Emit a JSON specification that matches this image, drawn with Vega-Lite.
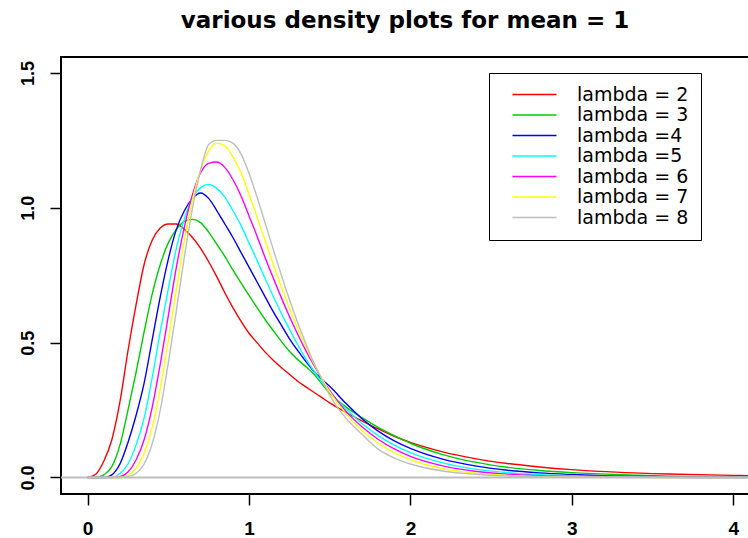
{
  "$schema": "https://vega.github.io/schema/vega-lite/v6.json",
  "width": 688,
  "height": 437,
  "autosize": {"type": "none"},
  "padding": {"left": 61, "top": 57, "right": 0, "bottom": 44},
  "background": "white",
  "title": {
    "text": "various density plots for mean = 1",
    "font": "DejaVu Sans",
    "fontWeight": "bold",
    "fontSize": 23,
    "color": "black",
    "anchor": "middle",
    "baseline": "alphabetic",
    "offset": 6
  },
  "config": {
    "view": {"stroke": "black", "strokeWidth": 2},
    "axis": {
      "domain": false,
      "grid": false,
      "ticks": true,
      "tickColor": "black",
      "tickWidth": 1.5,
      "tickSize": 11,
      "labelColor": "black",
      "labelFont": "Liberation Sans",
      "labelFontWeight": "bold",
      "title": null
    }
  },
  "layer": [
    {
      "data": {
        "values": [
          {"x": 0, "lambda = 2": 0, "lambda = 3": 0, "lambda =4": 0, "lambda =5": 0, "lambda = 6": 0, "lambda = 7": 0, "lambda = 8": 0},
          {"x": 0.05, "lambda = 2": 0.012, "lambda = 3": 0, "lambda =4": 0, "lambda =5": 0, "lambda = 6": 0, "lambda = 7": 0, "lambda = 8": 0},
          {"x": 0.1, "lambda = 2": 0.06, "lambda = 3": 0.01, "lambda =4": 0, "lambda =5": 0, "lambda = 6": 0, "lambda = 7": 0, "lambda = 8": 0},
          {"x": 0.15, "lambda = 2": 0.14, "lambda = 3": 0.04, "lambda =4": 0.01, "lambda =5": 0, "lambda = 6": 0, "lambda = 7": 0, "lambda = 8": 0},
          {"x": 0.2, "lambda = 2": 0.28, "lambda = 3": 0.12, "lambda =4": 0.05, "lambda =5": 0.015, "lambda = 6": 0.003, "lambda = 7": 0, "lambda = 8": 0},
          {"x": 0.25, "lambda = 2": 0.47, "lambda = 3": 0.25, "lambda =4": 0.13, "lambda =5": 0.05, "lambda = 6": 0.02, "lambda = 7": 0.008, "lambda = 8": 0.003},
          {"x": 0.3, "lambda = 2": 0.64, "lambda = 3": 0.39, "lambda =4": 0.23, "lambda =5": 0.12, "lambda = 6": 0.065, "lambda = 7": 0.035, "lambda = 8": 0.015},
          {"x": 0.35, "lambda = 2": 0.79, "lambda = 3": 0.54, "lambda =4": 0.35, "lambda =5": 0.22, "lambda = 6": 0.14, "lambda = 7": 0.09, "lambda = 8": 0.05},
          {"x": 0.4, "lambda = 2": 0.88, "lambda = 3": 0.68, "lambda =4": 0.51, "lambda =5": 0.37, "lambda = 6": 0.26, "lambda = 7": 0.185, "lambda = 8": 0.125},
          {"x": 0.45, "lambda = 2": 0.925, "lambda = 3": 0.79, "lambda =4": 0.67, "lambda =5": 0.54, "lambda = 6": 0.42, "lambda = 7": 0.33, "lambda = 8": 0.25},
          {"x": 0.5, "lambda = 2": 0.94, "lambda = 3": 0.87, "lambda =4": 0.81, "lambda =5": 0.7, "lambda = 6": 0.6, "lambda = 7": 0.51, "lambda = 8": 0.425},
          {"x": 0.55, "lambda = 2": 0.94, "lambda = 3": 0.92, "lambda =4": 0.92, "lambda =5": 0.85, "lambda = 6": 0.78, "lambda = 7": 0.7, "lambda = 8": 0.62},
          {"x": 0.6, "lambda = 2": 0.92, "lambda = 3": 0.95, "lambda =4": 0.99, "lambda =5": 0.96, "lambda = 6": 0.93, "lambda = 7": 0.88, "lambda = 8": 0.82},
          {"x": 0.65, "lambda = 2": 0.89, "lambda = 3": 0.957, "lambda =4": 1.035, "lambda =5": 1.035, "lambda = 6": 1.05, "lambda = 7": 1.03, "lambda = 8": 1.0},
          {"x": 0.7, "lambda = 2": 0.85, "lambda = 3": 0.945, "lambda =4": 1.055, "lambda =5": 1.075, "lambda = 6": 1.13, "lambda = 7": 1.14, "lambda = 8": 1.14},
          {"x": 0.75, "lambda = 2": 0.8, "lambda = 3": 0.91, "lambda =4": 1.035, "lambda =5": 1.087, "lambda = 6": 1.165, "lambda = 7": 1.21, "lambda = 8": 1.235},
          {"x": 0.8, "lambda = 2": 0.745, "lambda = 3": 0.865, "lambda =4": 0.99, "lambda =5": 1.072, "lambda = 6": 1.17, "lambda = 7": 1.24, "lambda = 8": 1.25},
          {"x": 0.85, "lambda = 2": 0.685, "lambda = 3": 0.82, "lambda =4": 0.94, "lambda =5": 1.04, "lambda = 6": 1.15, "lambda = 7": 1.23, "lambda = 8": 1.25},
          {"x": 0.9, "lambda = 2": 0.63, "lambda = 3": 0.77, "lambda =4": 0.89, "lambda =5": 0.99, "lambda = 6": 1.105, "lambda = 7": 1.19, "lambda = 8": 1.24},
          {"x": 0.95, "lambda = 2": 0.58, "lambda = 3": 0.722, "lambda =4": 0.835, "lambda =5": 0.935, "lambda = 6": 1.045, "lambda = 7": 1.13, "lambda = 8": 1.2},
          {"x": 1.0, "lambda = 2": 0.535, "lambda = 3": 0.675, "lambda =4": 0.78, "lambda =5": 0.87, "lambda = 6": 0.97, "lambda = 7": 1.05, "lambda = 8": 1.128},
          {"x": 1.05, "lambda = 2": 0.5, "lambda = 3": 0.63, "lambda =4": 0.725, "lambda =5": 0.805, "lambda = 6": 0.895, "lambda = 7": 0.965, "lambda = 8": 1.039},
          {"x": 1.1, "lambda = 2": 0.465, "lambda = 3": 0.585, "lambda =4": 0.67, "lambda =5": 0.737, "lambda = 6": 0.815, "lambda = 7": 0.878, "lambda = 8": 0.943},
          {"x": 1.15, "lambda = 2": 0.435, "lambda = 3": 0.545, "lambda =4": 0.615, "lambda =5": 0.672, "lambda = 6": 0.74, "lambda = 7": 0.79, "lambda = 8": 0.846},
          {"x": 1.2, "lambda = 2": 0.408, "lambda = 3": 0.505, "lambda =4": 0.565, "lambda =5": 0.609, "lambda = 6": 0.667, "lambda = 7": 0.707, "lambda = 8": 0.751},
          {"x": 1.25, "lambda = 2": 0.383, "lambda = 3": 0.468, "lambda =4": 0.515, "lambda =5": 0.55, "lambda = 6": 0.598, "lambda = 7": 0.628, "lambda = 8": 0.661},
          {"x": 1.3, "lambda = 2": 0.358, "lambda = 3": 0.438, "lambda =4": 0.472, "lambda =5": 0.494, "lambda = 6": 0.533, "lambda = 7": 0.555, "lambda = 8": 0.577},
          {"x": 1.35, "lambda = 2": 0.337, "lambda = 3": 0.412, "lambda =4": 0.432, "lambda =5": 0.442, "lambda = 6": 0.473, "lambda = 7": 0.488, "lambda = 8": 0.5},
          {"x": 1.4, "lambda = 2": 0.317, "lambda = 3": 0.385, "lambda =4": 0.395, "lambda =5": 0.397, "lambda = 6": 0.418, "lambda = 7": 0.425, "lambda = 8": 0.428},
          {"x": 1.45, "lambda = 2": 0.297, "lambda = 3": 0.348, "lambda =4": 0.365, "lambda =5": 0.355, "lambda = 6": 0.368, "lambda = 7": 0.37, "lambda = 8": 0.365},
          {"x": 1.5, "lambda = 2": 0.277, "lambda = 3": 0.312, "lambda =4": 0.338, "lambda =5": 0.318, "lambda = 6": 0.323, "lambda = 7": 0.318, "lambda = 8": 0.305},
          {"x": 1.6, "lambda = 2": 0.242, "lambda = 3": 0.262, "lambda =4": 0.275, "lambda =5": 0.255, "lambda = 6": 0.246, "lambda = 7": 0.237, "lambda = 8": 0.22},
          {"x": 1.7, "lambda = 2": 0.21, "lambda = 3": 0.222, "lambda =4": 0.218, "lambda =5": 0.2, "lambda = 6": 0.188, "lambda = 7": 0.175, "lambda = 8": 0.16},
          {"x": 1.8, "lambda = 2": 0.18, "lambda = 3": 0.186, "lambda =4": 0.172, "lambda =5": 0.155, "lambda = 6": 0.142, "lambda = 7": 0.128, "lambda = 8": 0.105},
          {"x": 1.9, "lambda = 2": 0.153, "lambda = 3": 0.155, "lambda =4": 0.136, "lambda =5": 0.12, "lambda = 6": 0.106, "lambda = 7": 0.092, "lambda = 8": 0.072},
          {"x": 2.0, "lambda = 2": 0.13, "lambda = 3": 0.127, "lambda =4": 0.108, "lambda =5": 0.092, "lambda = 6": 0.078, "lambda = 7": 0.066, "lambda = 8": 0.05},
          {"x": 2.2, "lambda = 2": 0.095, "lambda = 3": 0.085, "lambda =4": 0.068, "lambda =5": 0.054, "lambda = 6": 0.043, "lambda = 7": 0.033, "lambda = 8": 0.024},
          {"x": 2.4, "lambda = 2": 0.07, "lambda = 3": 0.057, "lambda =4": 0.043, "lambda =5": 0.031, "lambda = 6": 0.023, "lambda = 7": 0.016, "lambda = 8": 0.012},
          {"x": 2.6, "lambda = 2": 0.052, "lambda = 3": 0.038, "lambda =4": 0.027, "lambda =5": 0.018, "lambda = 6": 0.012, "lambda = 7": 0.008, "lambda = 8": 0.005},
          {"x": 2.8, "lambda = 2": 0.039, "lambda = 3": 0.026, "lambda =4": 0.017, "lambda =5": 0.01, "lambda = 6": 0.0065, "lambda = 7": 0.004, "lambda = 8": 0.0024},
          {"x": 3.0, "lambda = 2": 0.029, "lambda = 3": 0.018, "lambda =4": 0.011, "lambda =5": 0.006, "lambda = 6": 0.0034, "lambda = 7": 0.002, "lambda = 8": 0.001},
          {"x": 3.3, "lambda = 2": 0.019, "lambda = 3": 0.01, "lambda =4": 0.005, "lambda =5": 0.003, "lambda = 6": 0.0013, "lambda = 7": 0.0006, "lambda = 8": 0.0003},
          {"x": 3.6, "lambda = 2": 0.013, "lambda = 3": 0.005, "lambda =4": 0.003, "lambda =5": 0.001, "lambda = 6": 0.0005, "lambda = 7": 0.0002, "lambda = 8": 0},
          {"x": 4.0, "lambda = 2": 0.008, "lambda = 3": 0.002, "lambda =4": 0.001, "lambda =5": 0, "lambda = 6": 0, "lambda = 7": 0, "lambda = 8": 0},
          {"x": 4.1, "lambda = 2": 0.007, "lambda = 3": 0.002, "lambda =4": 0.001, "lambda =5": 0, "lambda = 6": 0, "lambda = 7": 0, "lambda = 8": 0}
        ]
      },
      "transform": [
        {"fold": ["lambda = 2", "lambda = 3", "lambda =4", "lambda =5", "lambda = 6", "lambda = 7", "lambda = 8"], "as": ["series", "density"]}
      ],
      "mark": {"type": "line", "strokeWidth": 1.4, "interpolate": "monotone", "clip": true},
      "encoding": {
        "x": {
          "field": "x",
          "type": "quantitative",
          "scale": {"domain": [-0.165, 4.098], "nice": false, "zero": false},
          "axis": {"values": [0, 1, 2, 3, 4], "format": "d", "labelFontSize": 19, "labelPadding": 14}
        },
        "y": {
          "field": "density",
          "type": "quantitative",
          "scale": {"domain": [-0.0612, 1.5593], "nice": false, "zero": false},
          "axis": {"values": [0, 0.5, 1, 1.5], "format": ".1f", "labelFontSize": 18, "labelAngle": 270, "labelAlign": "center", "labelBaseline": "bottom", "labelPadding": 13}
        },
        "color": {
          "field": "series",
          "type": "nominal",
          "scale": {
            "domain": ["lambda = 2", "lambda = 3", "lambda =4", "lambda =5", "lambda = 6", "lambda = 7", "lambda = 8"],
            "range": ["#FF0000", "#00CD00", "#0000FF", "#00FFFF", "#FF00FF", "#FFFF00", "#BEBEBE"]
          },
          "legend": {
            "title": null,
            "orient": "none",
            "legendX": 428,
            "legendY": 16,
            "strokeColor": "black",
            "fillColor": "white",
            "padding": 12,
            "symbolType": "M-4,0H4",
            "symbolSize": 121,
            "symbolStrokeWidth": 1.3,
            "symbolOffset": 24,
            "labelOffset": 33,
            "labelFont": "DejaVu Sans",
            "labelFontSize": 19,
            "labelColor": "black",
            "rowPadding": 0.5
          }
        }
      }
    },
    {
      "data": {"values": [{}]},
      "mark": {"type": "rule", "color": "#BEBEBE", "strokeWidth": 2},
      "encoding": {"y": {"datum": 0}}
    }
  ]
}
